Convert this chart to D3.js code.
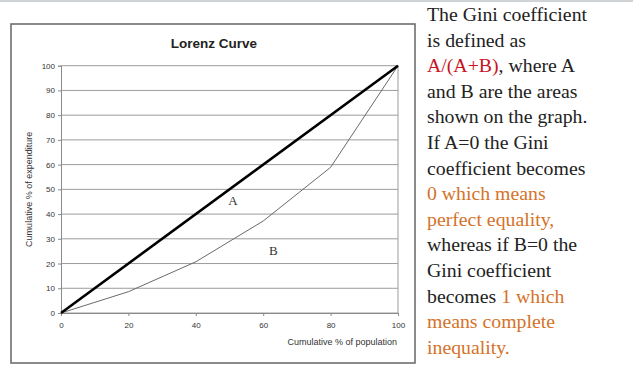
<!DOCTYPE html>
<html>
<head>
<meta charset="utf-8">
<script src="https://cdn.jsdelivr.net/npm/d3@7"></script>
<style>
  body { margin: 0; background: #fff; }
  svg { display: block; }
</style>
</head>
<body>
<svg id="chart" width="633" height="377"></svg>
<script>
// cumulative % of population vs cumulative % of expenditure
const population = [0, 20, 40, 60, 80, 100];
const expenditure = [0, 8.6, 20.7, 37.2, 58.9, 100];
const equality = [0, 100];
const xTicks = [0, 20, 40, 60, 80, 100];
const yTicks = [0, 10, 20, 30, 40, 50, 60, 70, 80, 90, 100];

const noteLines = [
  [["The Gini coefficient", "#222"]],
  [["is defined as", "#222"]],
  [["A/(A+B)", "#c8141e"], [", where A", "#222"]],
  [["and B are the areas", "#222"]],
  [["shown on the graph.", "#222"]],
  [["If A=0 the Gini", "#222"]],
  [["coefficient becomes", "#222"]],
  [["0 which means", "#d4732a"]],
  [["perfect equality,", "#d4732a"]],
  [["whereas if B=0 the", "#222"]],
  [["Gini coefficient", "#222"]],
  [["becomes ", "#222"], ["1 which", "#d4732a"]],
  [["means complete", "#d4732a"]],
  [["inequality.", "#d4732a"]]
];

const svg = d3.select("#chart");

// thin bar at the very top of the screenshot
svg.append("rect").attr("x", 0).attr("y", 0).attr("width", 633).attr("height", 2)
   .attr("fill", "#cfd3d6");

// chart frame
svg.append("rect")
   .attr("x", 11).attr("y", 24).attr("width", 404).attr("height", 339)
   .attr("fill", "#fff").attr("stroke", "#6e6e6e").attr("stroke-width", 1.6);

const plot = { left: 61, right: 398, top: 65.7, bottom: 313 };

const x = d3.scaleLinear().domain([0, 100]).range([plot.left, plot.right]);
const y = d3.scaleLinear().domain([0, 100]).range([plot.bottom, plot.top]);

const g = svg.append("g");

// horizontal grid
g.selectAll(".grid")
 .data(yTicks)
 .enter()
 .append("line")
 .attr("x1", plot.left).attr("x2", plot.right)
 .attr("y1", d => y(d)).attr("y2", d => y(d))
 .attr("stroke", "#9c9c9c").attr("stroke-width", 1);

// right edge of plot
g.append("line")
 .attr("x1", plot.right).attr("x2", plot.right)
 .attr("y1", plot.top).attr("y2", plot.bottom)
 .attr("stroke", "#9c9c9c");

const fontSans = "Liberation Sans, Arial, sans-serif";

const yAxis = d3.axisLeft(y).tickValues(yTicks).tickSize(3).tickPadding(3);
g.append("g")
 .attr("transform", `translate(${plot.left},0)`)
 .call(yAxis)
 .call(a => a.select(".domain").attr("stroke", "#8a8a8a"))
 .call(a => a.selectAll(".tick line").attr("stroke", "#8a8a8a"))
 .call(a => a.selectAll("text").attr("fill", "#333").style("font-family", fontSans).style("font-size", "8px"));

const xAxis = d3.axisBottom(x).tickValues(xTicks).tickSize(3).tickPadding(6);
g.append("g")
 .attr("transform", `translate(0,${plot.bottom})`)
 .call(xAxis)
 .call(a => a.select(".domain").attr("stroke", "#8a8a8a"))
 .call(a => a.selectAll(".tick line").attr("stroke", "#8a8a8a"))
 .call(a => a.selectAll("text").attr("fill", "#333").style("font-family", fontSans).style("font-size", "8px"));

// lines
const line = d3.line().x(d => x(d[0])).y(d => y(d[1]));

g.append("path")
 .datum(population.map((p, i) => [p, expenditure[i]]))
 .attr("d", line)
 .attr("fill", "none").attr("stroke", "#6a6a6a").attr("stroke-width", 1);

g.append("path")
 .datum(equality.map(v => [v, v]))
 .attr("d", line)
 .attr("fill", "none").attr("stroke", "#000").attr("stroke-width", 2.6);

// area labels
g.append("text").attr("x", x(51)).attr("y", y(45.4)).attr("dy", "0.35em")
 .attr("text-anchor", "middle").style("font-family", "Liberation Serif, serif")
 .style("font-size", "13px").attr("fill", "#333").text("A");
g.append("text").attr("x", x(63)).attr("y", y(25.2)).attr("dy", "0.35em")
 .attr("text-anchor", "middle").style("font-family", "Liberation Serif, serif")
 .style("font-size", "13px").attr("fill", "#333").text("B");

// titles
svg.append("text").attr("x", 214).attr("y", 48).attr("text-anchor", "middle")
   .style("font-family", fontSans).style("font-size", "13.5px").style("font-weight", "bold")
   .attr("fill", "#222").text("Lorenz Curve");

svg.append("text").attr("x", plot.right - 1).attr("y", 345).attr("text-anchor", "end")
   .style("font-family", fontSans).style("font-size", "9px")
   .attr("fill", "#333").text("Cumulative % of population");

svg.append("text")
   .attr("transform", `translate(32,${(plot.top + plot.bottom) / 2}) rotate(-90)`)
   .attr("text-anchor", "middle")
   .style("font-family", fontSans).style("font-size", "9px")
   .attr("fill", "#333").text("Cumulative % of expenditure");

// explanatory text
const note = svg.append("text")
   .style("font-family", "Liberation Serif, Times New Roman, serif")
   .style("font-size", "19.8px");

noteLines.forEach((parts, i) => {
  const row = note.append("tspan").attr("x", 427).attr("y", 21 + i * 25.6);
  parts.forEach(p => {
    row.append("tspan").attr("fill", p[1]).text(p[0]);
  });
});
</script>
</body>
</html>
